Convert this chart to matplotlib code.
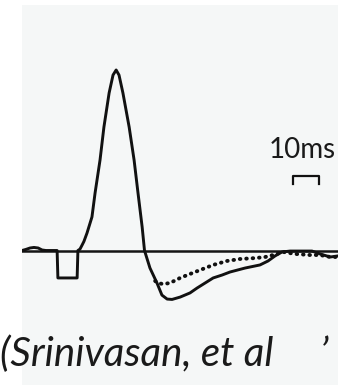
import numpy as np
import matplotlib.pyplot as plt

# field potential trace, time in ms, amplitude in % of peak
t_solid = [0, 1.5, 3.1, 4.6, 6.2, 7.7, 9.2, 13.5, 13.8, 21.2, 21.5, 22.3, 23.1, 23.8,
           25.0, 26.9, 28.1, 30.0, 31.5, 33.5, 35.0, 36.2, 37.3, 38.8, 41.2, 43.1,
           44.6, 46.2, 47.1, 49.2, 51.9, 53.8, 55.8, 57.7, 60.8, 64.6, 67.3, 70.4,
           73.5, 76.9, 80.0, 85.8, 91.5, 94.6, 97.3, 100.0, 103.1, 111.5, 114.6,
           118.5, 121.5]
v_solid = [0, 0.6, 1.4, 1.7, 1.4, 0.3, 0, 0, -15.2, -15.2, 0, 0.8, 3.0, 5.0,
           9.7, 18.6, 31.9, 50.1, 68.4, 87.3, 97.2, 100, 97.2, 87.3, 68.4, 50.1,
           31.9, 13.0, 0, -9.7, -18.0, -24.7, -26.9, -27.1, -25.8, -23.5, -20.8, -18.0,
           -15.2, -13.6, -11.9, -9.7, -8.0, -5.8, -3.0, -0.8, -0.3, -0.3, -1.9,
           -3.6, -3.0]

t_dotted = [51.2, 52.3, 54.2, 56.9, 60.8, 64.6, 68.5, 73.5, 78.8, 83.8, 89.6,
            93.5, 96.5, 100.4, 105.0, 110.8, 114.6, 118.5, 121.5]
v_dotted = [-16.9, -18.0, -18.6, -18.0, -15.2, -13.0, -10.8, -8.0, -5.8, -4.7, -4.2,
            -3.6, -2.5, -0.8, -1.9, -2.5, -2.5, -3.6, -3.6]

scale_start = 104.2
scale_len = 10  # ms
scale_label = "10ms"
caption = "(Srinivasan, et al     \u2019"

fig = plt.figure(figsize=(3.38, 3.85), dpi=100)
fig.patch.set_facecolor('white')
ax = fig.add_axes([22 / 338, 0, 316 / 338, 380 / 385])
ax.set_xlim(0, 121.5)
ax.set_ylim(-74.5, 136)
ax.axis('off')
ax.add_patch(plt.Rectangle((0, 0), 1, 1, transform=ax.transAxes, color='#f5f7f7', zorder=0))

ax.axhline(0, color='#151515', lw=1.8, zorder=2)
ax.plot(t_solid, v_solid, color='#111111', lw=2.1, solid_joinstyle='round', zorder=3)
ax.plot(t_dotted, v_dotted, color='#111111', lw=2.8, linestyle=(0, (0.15, 1.5)),
        dash_capstyle='round', zorder=3)

# scale bar
ax.plot([scale_start, scale_start, scale_start + scale_len, scale_start + scale_len],
        [37, 41.3, 41.3, 37], color='#111111', lw=1.6, solid_joinstyle='round')
ax.text(scale_start + scale_len / 2 - 1.5, 51.5, scale_label, ha='center', va='baseline',
        fontsize=20, family='Lato', color='#1a1a1a')

fig.text(0, 1 - 366 / 385, caption, ha='left', va='baseline', fontsize=29,
         family='Lato', style='italic', color='#1a1a1a')

fig.savefig('out.png', dpi=100, facecolor='white')
